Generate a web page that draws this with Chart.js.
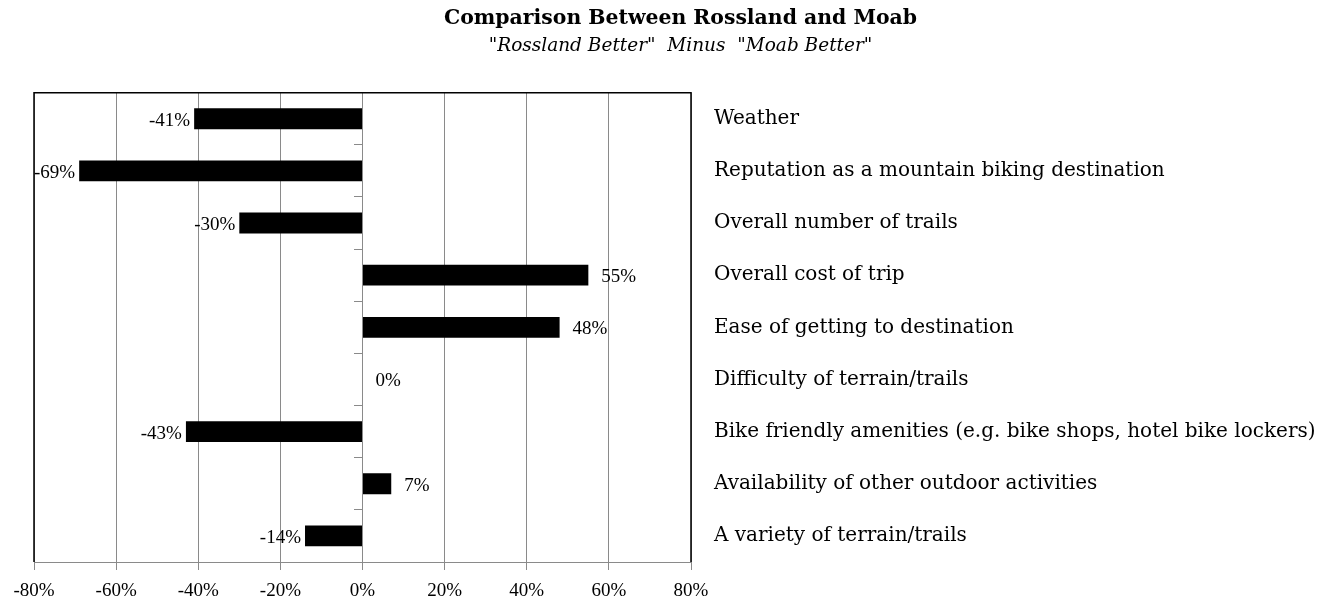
<!DOCTYPE html>
<html>
<head>
<meta charset="utf-8">
<script src="https://cdn.jsdelivr.net/npm/chart.js@4.4.1/dist/chart.umd.min.js"></script>
<style>
  body { margin: 0; background: #fff; }
</style>
</head>
<body>
<canvas id="myChart" width="1327" height="603"></canvas>
<script>
const items = [
  'Weather',
  'Reputation as a mountain biking destination',
  'Overall number of trails',
  'Overall cost of trip',
  'Ease of getting to destination',
  'Difficulty of terrain/trails',
  'Bike friendly amenities (e.g. bike shops, hotel bike lockers)',
  'Availability of other outdoor activities',
  'A variety of terrain/trails'
];
const scores = [-41, -69, -30, 55, 48, 0, -43, 7, -14];
const xTicks = [-80, -60, -40, -20, 0, 20, 40, 60, 80];

const gridGray = '#8a8a8a';

// value labels next to the bar ends
const valueLabels = {
  id: 'valueLabels',
  afterDatasetsDraw(chart) {
    const ctx = chart.ctx;
    const meta = chart.getDatasetMeta(0);
    ctx.save();
    ctx.font = '19px "Liberation Serif"';
    ctx.fillStyle = '#000';
    ctx.textBaseline = 'middle';
    meta.data.forEach((bar, i) => {
      const txt = scores[i] + '%';
      if (scores[i] < 0) {
        ctx.textAlign = 'right';
        ctx.fillText(txt, bar.x - 4, bar.y + 2);
      } else {
        ctx.textAlign = 'left';
        ctx.fillText(txt, bar.x + 13, bar.y + 2);
      }
    });
    ctx.restore();
  }
};

// black frame on left, top and right of the plot
const plotFrame = {
  id: 'plotFrame',
  afterDraw(chart) {
    const a = chart.chartArea;
    const ctx = chart.ctx;
    ctx.save();
    ctx.strokeStyle = '#000';
    ctx.lineWidth = 1.5;
    ctx.beginPath();
    ctx.moveTo(a.left, a.bottom);
    ctx.lineTo(a.left, a.top);
    ctx.lineTo(a.right, a.top);
    ctx.lineTo(a.right, a.bottom);
    ctx.stroke();
    ctx.restore();
  }
};

const data = {
  labels: items,
  datasets: [{
    label: 'Rossland minus Moab',
    data: scores,
    backgroundColor: '#000',
    borderWidth: 0,
    barPercentage: 0.4,
    categoryPercentage: 1
  }]
};

const config = {
  type: 'bar',
  data: data,
  options: {
    indexAxis: 'y',
    responsive: false,
    animation: false,
    layout: { padding: { left: 34, right: 0, top: 0, bottom: 0 } },
    plugins: {
      legend: { display: false },
      tooltip: { enabled: false },
      title: {
        display: true,
        text: 'Comparison Between Rossland and Moab',
        color: '#000',
        font: { family: 'DejaVu Serif', size: 20.4, weight: 'bold' },
        padding: { top: 6, bottom: 0 }
      },
      subtitle: {
        display: true,
        text: '"Rossland Better"  Minus  "Moab Better"',
        color: '#000',
        font: { family: 'DejaVu Serif', size: 18.5, style: 'italic' },
        padding: { top: 5, bottom: 35 }
      }
    },
    scales: {
      x: {
        min: -80,
        max: 80,
        afterBuildTicks: s => { s.ticks = xTicks.map(v => ({ value: v })); },
        afterFit: s => { s.height = 41; },
        ticks: {
          callback: v => v + '%',
          color: '#000',
          font: { family: 'Liberation Serif', size: 19 },
          padding: 10,
          maxRotation: 0
        },
        grid: { color: gridGray, lineWidth: 1, tickLength: 8, tickColor: gridGray },
        border: { color: gridGray, width: 1 }
      },
      y: {
        position: 'right',
        afterFit: s => { s.width = 636; },
        grid: { display: false, drawTicks: false },
        border: { display: false },
        ticks: {
          color: '#000',
          font: { family: 'DejaVu Serif', size: 20 },
          padding: 23
        }
      },
      yz: {
        type: 'category',
        axis: 'y',
        position: { x: 0 },
        offset: true,
        grid: { drawOnChartArea: false, color: gridGray, tickLength: 8, offset: true },
        border: { color: gridGray, width: 1 },
        ticks: { display: false }
      }
    }
  },
  plugins: [valueLabels, plotFrame]
};

const myChart = new Chart(document.getElementById('myChart'), config);
</script>
</body>
</html>
